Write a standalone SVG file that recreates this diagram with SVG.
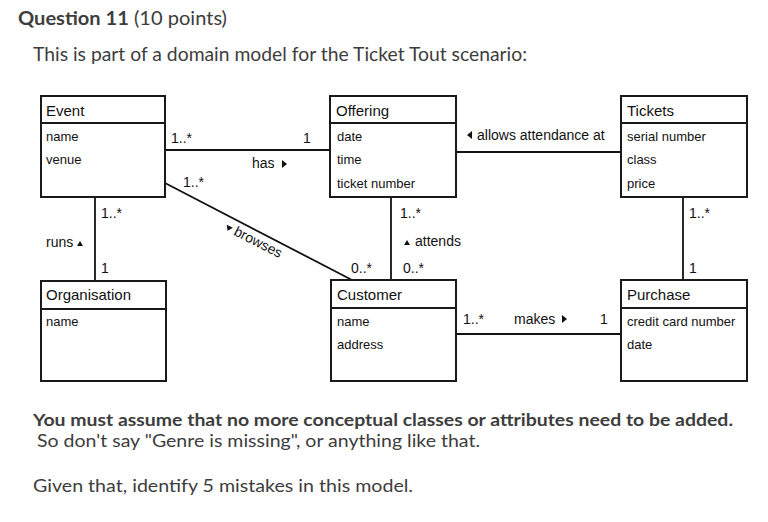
<svg xmlns="http://www.w3.org/2000/svg" width="768" height="522" viewBox="0 0 768 522">
<style>
.q{font-family:Lato,"Open Sans",sans-serif;fill:#3d3d3d}
.box{fill:#fff;stroke:#1a1a1a;stroke-width:2}
.sep{stroke:#1a1a1a;stroke-width:2}
.hd{font-family:"Liberation Sans",Arial,sans-serif;font-size:15px;fill:#111}
.at{font-family:"Liberation Sans",Arial,sans-serif;font-size:13px;fill:#111}
.lb{font-family:"Liberation Sans",Arial,sans-serif;font-size:14px;fill:#111}
.ln{stroke:#111;stroke-width:1.8;fill:none}
.tri{fill:#111}
</style>
<rect width="768" height="522" fill="#fff"/>
<text class="q" x="18" y="25" font-size="19" textLength="209" lengthAdjust="spacingAndGlyphs"><tspan font-weight="bold">Question 11</tspan> (10 points)</text>
<text class="q" x="33" y="61" font-size="19" textLength="494" lengthAdjust="spacingAndGlyphs">This is part of a domain model for the Ticket Tout scenario:</text>

<g id="connectors">
<line class="ln" x1="165" y1="150" x2="330" y2="150"/>
<line class="ln" x1="456" y1="152" x2="621" y2="152"/>
<line class="ln" x1="456" y1="334" x2="621" y2="334"/>
<line class="ln" x1="95" y1="197" x2="95" y2="281"/>
<line class="ln" x1="391" y1="197" x2="391" y2="280"/>
<line class="ln" x1="683" y1="197" x2="683" y2="280"/>
<line class="ln" x1="165" y1="183" x2="352" y2="280"/>
<text class="lb" x="171" y="143">1..*</text>
<text class="lb" x="303" y="143">1</text>
<text class="lb" x="252" y="168">has</text>
<polygon class="tri" points="282,160 287,164 282,168"/>
<text class="lb" x="183" y="187">1..*</text>
<g transform="translate(224,230) rotate(27)">
<polygon class="tri" points="0,-6 7,-6 3.5,-1"/>
<text class="lb" x="10" y="0">browses</text>
</g>
<text class="lb" x="351" y="273">0..*</text>
<text class="lb" x="101" y="218">1..*</text>
<text class="lb" x="46" y="247">runs</text>
<polygon class="tri" points="77,246 80,241 83,246"/>
<text class="lb" x="101" y="273">1</text>
<polygon class="tri" points="472,131 467,135 472,139"/>
<text class="lb" x="477" y="140">allows attendance at</text>
<text class="lb" x="400" y="218">1..*</text>
<polygon class="tri" points="404,245 407,240 410,245"/>
<text class="lb" x="415" y="246">attends</text>
<text class="lb" x="403" y="273">0..*</text>
<text class="lb" x="689" y="218">1..*</text>
<text class="lb" x="689" y="273">1</text>
<text class="lb" x="463" y="324">1..*</text>
<text class="lb" x="514" y="324">makes</text>
<polygon class="tri" points="562,315 567,319 562,323"/>
<text class="lb" x="600" y="324">1</text>
</g>

<g id="event">
<rect class="box" x="41" y="96" width="124" height="101"/>
<line class="sep" x1="41" y1="123" x2="165" y2="123"/>
<text class="hd" x="46" y="116">Event</text>
<text class="at" x="46" y="141">name</text>
<text class="at" x="46" y="164">venue</text>
</g>
<g id="offering">
<rect class="box" x="330" y="96" width="126" height="101"/>
<line class="sep" x1="330" y1="123" x2="456" y2="123"/>
<text class="hd" x="336" y="116">Offering</text>
<text class="at" x="337" y="141">date</text>
<text class="at" x="337" y="164">time</text>
<text class="at" x="337" y="188">ticket number</text>
</g>
<g id="tickets">
<rect class="box" x="621" y="96" width="126" height="101"/>
<line class="sep" x1="621" y1="123" x2="747" y2="123"/>
<text class="hd" x="627" y="116">Tickets</text>
<text class="at" x="627" y="141">serial number</text>
<text class="at" x="627" y="164">class</text>
<text class="at" x="627" y="188">price</text>
</g>
<g id="organisation">
<rect class="box" x="41" y="281" width="125" height="100"/>
<line class="sep" x1="41" y1="309" x2="166" y2="309"/>
<text class="hd" x="46" y="300">Organisation</text>
<text class="at" x="46" y="326">name</text>
</g>
<g id="customer">
<rect class="box" x="331" y="280" width="125" height="101"/>
<line class="sep" x1="331" y1="308" x2="456" y2="308"/>
<text class="hd" x="337" y="300">Customer</text>
<text class="at" x="337" y="326">name</text>
<text class="at" x="337" y="349">address</text>
</g>
<g id="purchase">
<rect class="box" x="621" y="280" width="126" height="101"/>
<line class="sep" x1="621" y1="308" x2="747" y2="308"/>
<text class="hd" x="627" y="300">Purchase</text>
<text class="at" x="627" y="326">credit card number</text>
<text class="at" x="627" y="349">date</text>
</g>

<text class="q" x="33" y="426" font-size="17" font-weight="bold" textLength="700" lengthAdjust="spacingAndGlyphs">You must assume that no more conceptual classes or attributes need to be added.</text>
<text class="q" x="37" y="447" font-size="17" textLength="443" lengthAdjust="spacingAndGlyphs">So don't say "Genre is missing", or anything like that.</text>
<text class="q" x="33" y="492" font-size="17" textLength="380" lengthAdjust="spacingAndGlyphs">Given that, identify 5 mistakes in this model.</text>
</svg>
